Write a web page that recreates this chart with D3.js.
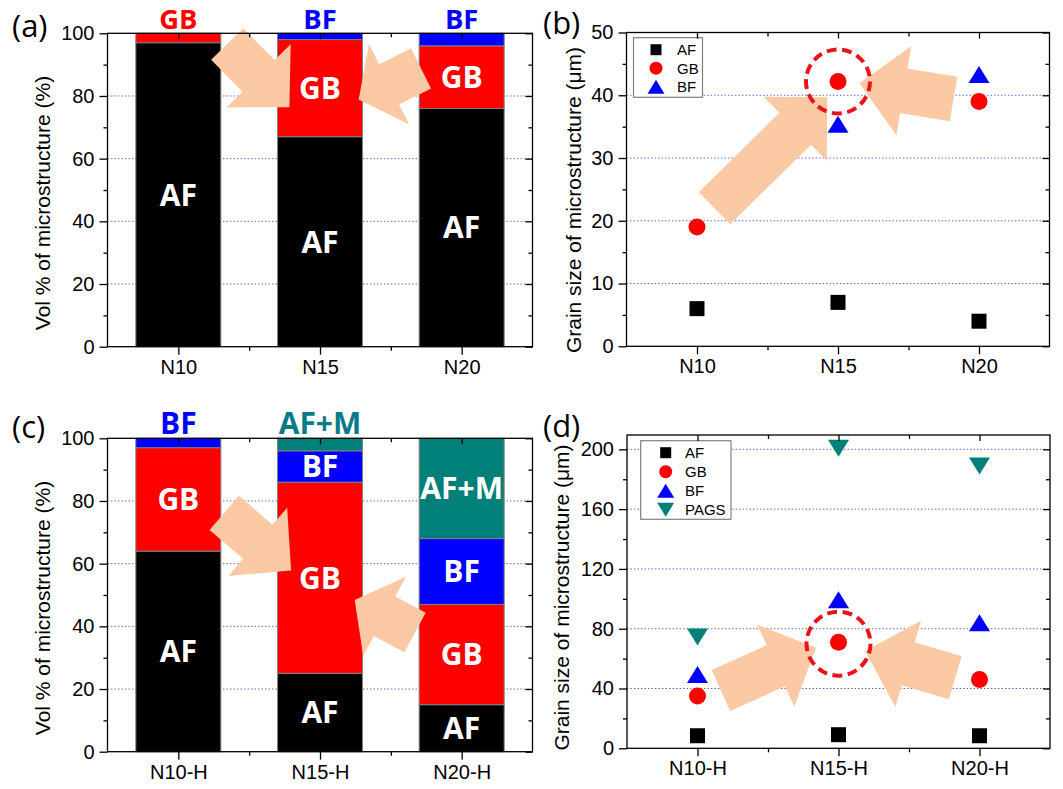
<!DOCTYPE html>
<html>
<head>
<meta charset="utf-8">
<script src="https://cdnjs.cloudflare.com/ajax/libs/d3/7.8.5/d3.min.js"></script>
<style>
body{margin:0;background:#fff;}
svg{display:block;}
.tick text{font-family:"Liberation Sans",Arial,sans-serif;font-size:20px;fill:#000;}
.tick line{stroke:#000;stroke-width:1.3;}
</style>
</head>
<body>
<svg id="chart" width="1063" height="789"></svg>
<script>
// ---- data ----
var phases = ["AF", "GB", "BF", "AF+M"];
var catsTop = ["N10", "N15", "N20"];
var catsBottom = ["N10-H", "N15-H", "N20-H"];

// (a) volume fraction, as received
var volAF_a = [97, 67, 76];
var volGB_a = [3, 31, 20];
var volBF_a = [0, 2, 4];
// (c) volume fraction, after heat treatment
var volAF_c = [64, 25, 15];
var volGB_c = [33, 61, 32];
var volBF_c = [3, 10, 21];
var volAFM_c = [0, 4, 32];

// (b) grain size (um)
var sizeAF_b = [6, 7, 4];
var sizeGB_b = [19, 42.2, 39];
var sizeBF_b = [null, 35.4, 43.3];
// (d) grain size (um)
var sizeAF_d = [8.4, 9.1, 8.4];
var sizeGB_d = [35, 71, 46];
var sizeBF_d = [49.4, 99.4, 84];
var sizePAGS_d = [74.4, 200.7, 188.8];

var ticksVol = [0, 20, 40, 60, 80, 100];
var ticksB = [0, 10, 20, 30, 40, 50];
var ticksD = [0, 40, 80, 120, 160, 200];

// annotations, in data units (category index, value)
var arrows_a = [
  {x0: 1.345, y0: 96.6, x1: 1.784, y1: 76.4, head: 44},
  {x0: 2.713, y0: 88.8, x1: 2.273, y1: 78.9, head: 34}
];
var arrows_b = [
  {x0: 1.124, y0: 22.0, x1: 1.924, y1: 39.7, head: 45},
  {x0: 2.819, y0: 39.4, x1: 2.152, y1: 41.9, head: 45}
];
var arrows_c = [
  {x0: 1.324, y0: 76.2, x1: 1.796, y1: 57.8, head: 44},
  {x0: 2.670, y0: 38.0, x1: 2.245, y1: 48.4, head: 34}
];
var arrows_d = [
  {x0: 1.166, y0: 38.7, x1: 1.840, y1: 67.3, head: 44},
  {x0: 2.828, y0: 47.2, x1: 2.188, y1: 65.1, head: 45}
];
var ring_b = {x: 2, y: 42.2};
var ring_d = {x: 2, y: 70};

// ---- styles ----
var phaseColor = {"AF": "#000000", "GB": "#ff0000", "BF": "#0000ff", "AF+M": "#008078", "PAGS": "#008078"};
var phaseMarker = {"AF": "square", "GB": "circle", "BF": "up", "PAGS": "down"};
var arrowColor = "#fbc9a4";
var gridColor = "#6a6acf";
var tickFont = '"Liberation Sans", Arial, sans-serif';
var boldFont = '"Open Sans", "Noto Sans", sans-serif';

var svg = d3.select("#chart");

function rows(cats, cols) {
  return cats.map(function(c, i) {
    var r = {cat: c};
    cols.forEach(function(s) { r[s.key] = s.values[i]; });
    return r;
  });
}

function makeScales(f, ymax) {
  return {
    x: d3.scaleLinear().domain([0.5, 3.5]).range([f.left, f.left + f.width]),
    y: d3.scaleLinear().domain([0, ymax]).range([f.top + f.height, f.top])
  };
}

function drawGrid(g, f, s, ticks) {
  g.append("g").selectAll("line")
    .data(ticks.filter(function(t) { return t > 0 && s.y(t) > f.top + 1; }))
    .join("line")
    .attr("x1", f.left).attr("x2", f.left + f.width)
    .attr("y1", function(d) { return s.y(d); }).attr("y2", function(d) { return s.y(d); })
    .attr("stroke", gridColor).attr("stroke-width", 1).attr("stroke-dasharray", "1.5,2");
}

function drawAxes(g, f, s, cats, ticks, title, titlePos) {
  var bottom = f.top + f.height, right = f.left + f.width;
  var minorX = [1.5, 2.5];
  var minorY = [];
  for (var i = 0; i < ticks.length; i++) {
    var m = i < ticks.length - 1 ? (ticks[i] + ticks[i + 1]) / 2 : ticks[i] + (ticks[1] - ticks[0]) / 2;
    if (m <= s.y.domain()[1]) minorY.push(m);
  }
  function clean(sel) { sel.select(".domain").remove(); }

  g.append("g").attr("transform", "translate(0," + bottom + ")")
    .call(d3.axisBottom(s.x).tickValues([1, 2, 3]).tickFormat(function(d) { return cats[d - 1]; })
      .tickSizeInner(8).tickSizeOuter(0).tickPadding(5)).call(clean);
  g.append("g").attr("transform", "translate(0," + bottom + ")")
    .call(d3.axisBottom(s.x).tickValues(minorX).tickFormat("").tickSize(4)).call(clean);
  g.append("g").attr("transform", "translate(0," + f.top + ")")
    .call(d3.axisBottom(s.x).tickValues([1, 2, 3]).tickFormat("").tickSize(6)).call(clean);
  g.append("g").attr("transform", "translate(0," + f.top + ")")
    .call(d3.axisBottom(s.x).tickValues(minorX).tickFormat("").tickSize(4)).call(clean);

  g.append("g").attr("transform", "translate(" + f.left + ",0)")
    .call(d3.axisLeft(s.y).tickValues(ticks).tickSizeInner(8).tickSizeOuter(0).tickPadding(5)).call(clean);
  g.append("g").attr("transform", "translate(" + f.left + ",0)")
    .call(d3.axisLeft(s.y).tickValues(minorY).tickFormat("").tickSize(4)).call(clean);
  g.append("g").attr("transform", "translate(" + right + ",0)")
    .call(d3.axisLeft(s.y).tickValues(ticks).tickFormat("").tickSize(7)).call(clean);
  g.append("g").attr("transform", "translate(" + right + ",0)")
    .call(d3.axisLeft(s.y).tickValues(minorY).tickFormat("").tickSize(4)).call(clean);

  g.append("rect").attr("x", f.left).attr("y", f.top).attr("width", f.width).attr("height", f.height)
    .attr("fill", "none").attr("stroke", "#000").attr("stroke-width", 1.3);

  g.append("text").attr("transform", "translate(" + titlePos[0] + "," + titlePos[1] + ") rotate(-90)")
    .attr("text-anchor", "middle").attr("dy", "0.35em")
    .style("font-family", tickFont).style("font-size", "21px").text(title);
}

function arrowPoints(a, s) {
  var x0 = s.x(a.x0), y0 = s.y(a.y0), x1 = s.x(a.x1), y1 = s.y(a.y1);
  var L = Math.hypot(x1 - x0, y1 - y0), ux = (x1 - x0) / L, uy = (y1 - y0) / L;
  var nx = -uy, ny = ux, sw = 22.5, hw = 45;
  var bx = x1 - ux * a.head, by = y1 - uy * a.head;
  return [
    [x0 + nx * sw, y0 + ny * sw], [bx + nx * sw, by + ny * sw], [bx + nx * hw, by + ny * hw],
    [x1, y1],
    [bx - nx * hw, by - ny * hw], [bx - nx * sw, by - ny * sw], [x0 - nx * sw, y0 - ny * sw]
  ];
}

function drawArrows(g, list, s) {
  g.append("g").selectAll("polygon").data(list).join("polygon")
    .attr("points", function(d) { return arrowPoints(d, s).map(function(p) { return p.join(","); }).join(" "); })
    .attr("fill", arrowColor);
}

function panelLabel(text, x, y) {
  svg.append("text").attr("x", x).attr("y", y)
    .style("font-family", '"Open Sans", sans-serif').style("font-size", "31px").text(text);
}

function barPanel(f, cats, cols, ticks, arrows, title, titlePos) {
  var g = svg.append("g");
  var s = makeScales(f, 100);
  var keys = cols.map(function(c) { return c.key; });
  var table = rows(cats, cols);
  var stack = d3.stack().keys(keys)(table);
  var bw = s.x(1.3) - s.x(0.7);
  // label above the frame must stay inside the page
  var topBase = f.top - 4;
  var topSize = Math.min(30, topBase / 1.07);

  drawGrid(g, f, s, ticks);

  var layer = g.append("g").selectAll("g").data(stack).join("g")
    .attr("fill", function(d) { return phaseColor[d.key]; });
  layer.selectAll("rect").data(function(d) { return d.filter(function(v) { return v[1] > v[0]; }); })
    .join("rect")
    .attr("x", function(d) { return s.x(table.indexOf(d.data) + 1) - bw / 2; })
    .attr("width", bw)
    .attr("y", function(d) { return s.y(d[1]); })
    .attr("height", function(d) { return s.y(d[0]) - s.y(d[1]); })
    .attr("stroke", "#808080").attr("stroke-width", 1);

  drawArrows(g, arrows, s);

  // phase labels: inside the segment when there is room, else above the bar
  stack.forEach(function(ly) {
    ly.forEach(function(d, i) {
      var v = d[1] - d[0];
      if (v <= 0) return;
      var t = g.append("text").attr("x", s.x(i + 1)).attr("text-anchor", "middle")
        .style("font-family", boldFont).style("font-weight", "700")
        .text(ly.key);
      if (v >= 5) {
        t.attr("y", s.y((d[0] + d[1]) / 2)).attr("dy", "0.36em").attr("fill", "#fff")
          .style("font-size", "30px");
      } else {
        t.attr("y", topBase).style("font-size", topSize + "px")
          .attr("fill", ly.key === "AF+M" ? "#0b7a88" : phaseColor[ly.key]);
      }
    });
  });

  drawAxes(g, f, s, cats, ticks, title, titlePos);
}

function markerPath(type, w, h) {
  if (type === "square") return "M" + (-w / 2) + "," + (-w / 2) + "h" + w + "v" + w + "h" + (-w) + "Z";
  if (type === "up") return "M0," + (-h / 2) + "L" + (w / 2) + "," + (h / 2) + "L" + (-w / 2) + "," + (h / 2) + "Z";
  if (type === "down") return "M0," + (h / 2) + "L" + (w / 2) + "," + (-h / 2) + "L" + (-w / 2) + "," + (-h / 2) + "Z";
  var r = w / 2;
  return "M" + (-r) + ",0A" + r + "," + r + " 0 1,0 " + r + ",0A" + r + "," + r + " 0 1,0 " + (-r) + ",0Z";
}
function markerSize(type, big) {
  if (type === "square") return big ? [15, 15] : [11, 11];
  if (type === "circle") return big ? [17, 17] : [13, 13];
  return big ? [21, 17] : [17, 14];
}

function scatterPanel(f, ymax, cats, series, ticks, arrows, ring, legendBox, title, titlePos) {
  var g = svg.append("g");
  var s = makeScales(f, ymax);

  drawGrid(g, f, s, ticks);
  drawArrows(g, arrows, s);

  var rr = 32;
  g.append("circle").attr("cx", s.x(ring.x)).attr("cy", s.y(ring.y)).attr("r", rr)
    .attr("fill", "none").attr("stroke", "#e8141b").attr("stroke-width", 4)
    .attr("stroke-dasharray", (2 * Math.PI * rr / 13 * 0.64) + "," + (2 * Math.PI * rr / 13 * 0.36));

  series.forEach(function(sr) {
    var type = phaseMarker[sr.key], sz = markerSize(type, true);
    g.append("g").selectAll("path")
      .data(sr.values.map(function(v, i) { return {i: i, v: v}; }).filter(function(d) { return d.v != null; }))
      .join("path")
      .attr("transform", function(d) { return "translate(" + s.x(d.i + 1) + "," + s.y(d.v) + ")"; })
      .attr("d", markerPath(type, sz[0], sz[1]))
      .attr("fill", phaseColor[sr.key]);
  });

  // legend
  var lg = g.append("g");
  var rowH = legendBox.h > 70 ? 19 : 18.5;
  lg.append("rect").attr("x", legendBox.x).attr("y", legendBox.y).attr("width", legendBox.w).attr("height", legendBox.h)
    .attr("fill", "#fff").attr("stroke", "#808080").attr("stroke-width", 1.2);
  series.forEach(function(sr, k) {
    var type = phaseMarker[sr.key], sz = markerSize(type, false);
    var cy = legendBox.y + 12 + k * rowH;
    lg.append("path").attr("transform", "translate(" + (legendBox.x + legendBox.mx) + "," + cy + ")")
      .attr("d", markerPath(type, sz[0], sz[1])).attr("fill", phaseColor[sr.key]);
    lg.append("text").attr("x", legendBox.x + legendBox.tx).attr("y", cy).attr("dy", "0.36em")
      .style("font-family", tickFont).style("font-size", "15px").text(sr.key);
  });

  drawAxes(g, f, s, cats, ticks, title, titlePos);
}

var volTitle = "Vol % of microstructure (%)";
var sizeTitle = "Grain size of microstructure (\u03bcm)";

barPanel({left: 107.5, top: 33.3, width: 425, height: 313.4}, catsTop,
  [{key: "AF", values: volAF_a}, {key: "GB", values: volGB_a}, {key: "BF", values: volBF_a}],
  ticksVol, arrows_a, volTitle, [43, 203]);

barPanel({left: 107.5, top: 438.3, width: 425, height: 313.4}, catsBottom,
  [{key: "AF", values: volAF_c}, {key: "GB", values: volGB_c}, {key: "BF", values: volBF_c}, {key: "AF+M", values: volAFM_c}],
  ticksVol, arrows_c, volTitle, [43, 608]);

scatterPanel({left: 626.5, top: 32.5, width: 423, height: 313.8}, 50, catsTop,
  [{key: "AF", values: sizeAF_b}, {key: "GB", values: sizeGB_b}, {key: "BF", values: sizeBF_b}],
  ticksB, arrows_b, ring_b, {x: 633.5, y: 37.7, w: 69, h: 59.6, mx: 22.5, tx: 43.5}, sizeTitle, [574, 200]);

scatterPanel({left: 627, top: 435, width: 423, height: 313.3}, 209.6, catsBottom,
  [{key: "AF", values: sizeAF_d}, {key: "GB", values: sizeGB_d}, {key: "BF", values: sizeBF_d}, {key: "PAGS", values: sizePAGS_d}],
  ticksD, arrows_d, ring_d, {x: 640.7, y: 440.7, w: 90.3, h: 78.6, mx: 25, tx: 44.3}, sizeTitle, [562, 597.5]);

panelLabel("(a)", 12, 36.5);
panelLabel("(b)", 543, 33.5);
panelLabel("(c)", 12, 438);
panelLabel("(d)", 543, 437);
</script>
</body>
</html>
